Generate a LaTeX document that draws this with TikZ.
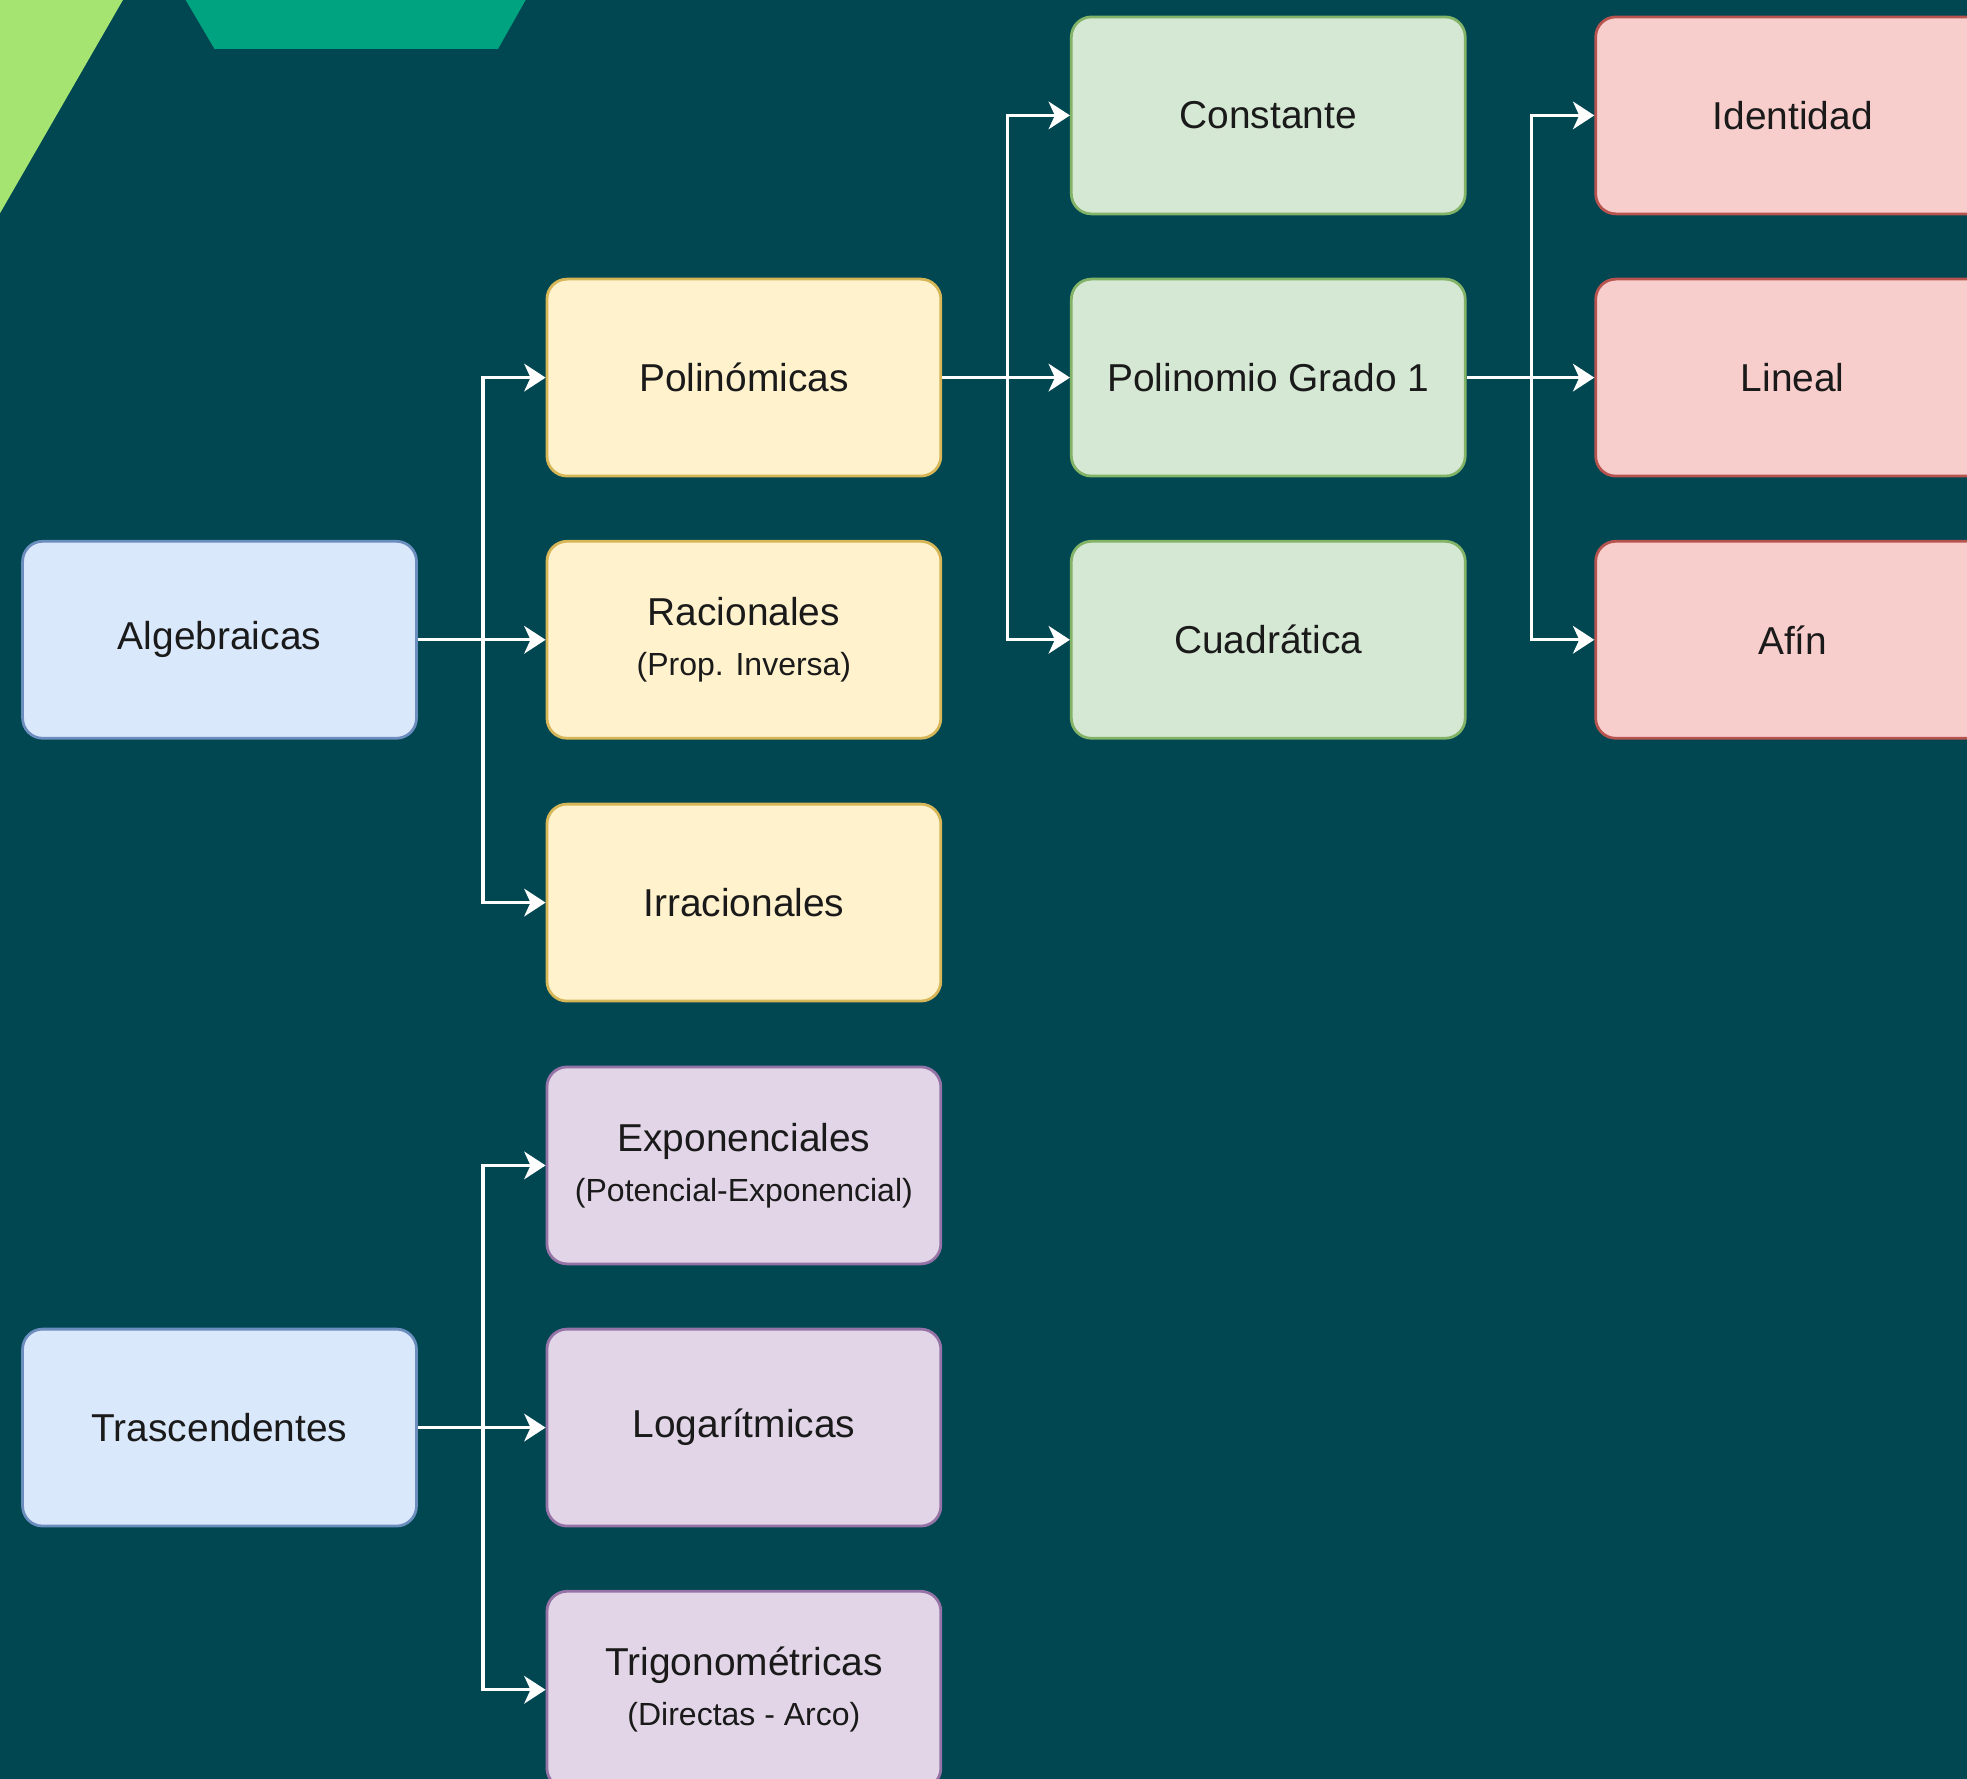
\documentclass[tikz,border=0pt]{standalone}
\usepackage{fontspec}
\setmainfont{Liberation Sans}
\usetikzlibrary{arrows.meta}
\definecolor{bgteal}{HTML}{004752}
\definecolor{lightgreen}{HTML}{A6E472}
\definecolor{midteal}{HTML}{00A37F}
\definecolor{bluefill}{HTML}{DAE8FC}\definecolor{bluedraw}{HTML}{6C8EBF}
\definecolor{yelfill}{HTML}{FFF2CC}\definecolor{yeldraw}{HTML}{D6B656}
\definecolor{grnfill}{HTML}{D5E8D4}\definecolor{grndraw}{HTML}{82B366}
\definecolor{redfill}{HTML}{F8CECC}\definecolor{reddraw}{HTML}{B85450}
\definecolor{purfill}{HTML}{E1D5E7}\definecolor{purdraw}{HTML}{9673A6}
\definecolor{txt}{HTML}{1A1A1A}
\newcommand{\mainsize}{\fontsize{31}{42}\selectfont}
\newcommand{\subsize}{\fontsize{25.5}{42}\selectfont}
\tikzset{
  box/.style={rectangle, rounded corners=16pt, minimum width=314pt, minimum height=157pt,
    inner sep=0pt, line width=2.2pt, text=txt, font=\mainsize, align=center},
  bluebox/.style={box, fill=bluefill, draw=bluedraw},
  yelbox/.style={box, fill=yelfill, draw=yeldraw},
  grnbox/.style={box, fill=grnfill, draw=grndraw},
  redbox/.style={box, fill=redfill, draw=reddraw},
  purbox/.style={box, fill=purfill, draw=purdraw},
  conn/.style={draw=white, line width=2.6pt, -{Stealth[length=17pt, width=22pt, inset=5pt, fill=white]}}
}
\begin{document}
\begin{tikzpicture}[x=1pt, y=-1pt]
\useasboundingbox (0,0) rectangle (1568,1418);
\fill[bgteal] (0,0) rectangle (1568,1418);
\clip (0,0) rectangle (1568,1418);
\fill[lightgreen] (0,0) -- (98,0) -- (0,170) -- cycle;
\fill[midteal] (148,0) -- (419,0) -- (397,39) -- (171,39) -- cycle;

% column 1
\node[bluebox] (alg) at (175,510) {Algebraicas};
\node[bluebox] (tra) at (175,1138) {Trascendentes};
% column 2
\node[yelbox] (pol) at (593,301) {Polinómicas};
\node[yelbox] (rac) at (593,510) {Racionales\\[-2pt]{\subsize (Prop. Inversa)}};
\node[yelbox] (irr) at (593,719.5) {Irracionales};
\node[purbox] (exp) at (593,929) {Exponenciales\\[-2pt]{\subsize (Potencial-Exponencial)}};
\node[purbox] (log) at (593,1138) {Logarítmicas};
\node[purbox] (tri) at (593,1347) {Trigonométricas\\[-2pt]{\subsize (Directas - Arco)}};
% column 3
\node[grnbox] (con) at (1011,92) {Constante};
\node[grnbox] (pg1) at (1011,301) {Polinomio Grado 1};
\node[grnbox] (cua) at (1011,510) {Cuadrática};
% column 4
\node[redbox] (ide) at (1429,92) {Identidad};
\node[redbox] (lin) at (1429,301) {Lineal};
\node[redbox] (afi) at (1429,510) {Afín};

% connectors
\draw[conn] (alg.east) -- ++(52,0) |- (pol.west);
\draw[conn] (alg.east) -- (rac.west);
\draw[conn] (alg.east) -- ++(52,0) |- (irr.west);
\draw[conn] (tra.east) -- ++(52,0) |- (exp.west);
\draw[conn] (tra.east) -- (log.west);
\draw[conn] (tra.east) -- ++(52,0) |- (tri.west);
\draw[conn] (pol.east) -- ++(52,0) |- (con.west);
\draw[conn] (pol.east) -- (pg1.west);
\draw[conn] (pol.east) -- ++(52,0) |- (cua.west);
\draw[conn] (pg1.east) -- ++(52,0) |- (ide.west);
\draw[conn] (pg1.east) -- (lin.west);
\draw[conn] (pg1.east) -- ++(52,0) |- (afi.west);
\end{tikzpicture}
\end{document}
